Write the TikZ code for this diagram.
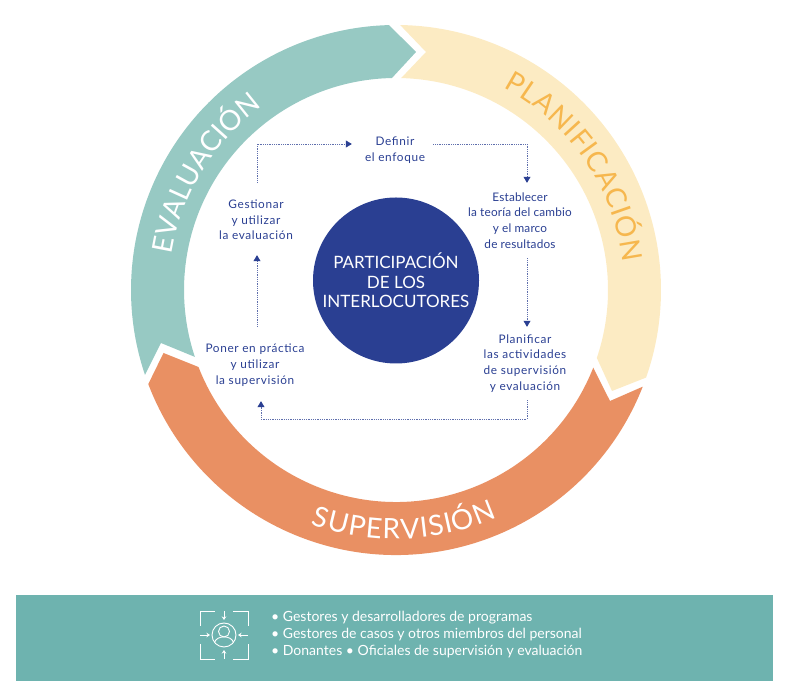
\documentclass[tikz,border=0pt]{standalone}
\usepackage{fontspec}
\setmainfont{Lato}
\newfontfamily\stepfont[LetterSpace=5.5]{Lato}
\newfontfamily\stepfonttight[LetterSpace=1.5]{Lato}
\usetikzlibrary{arrows.meta,calc,decorations.text}
\definecolor{tealring}{HTML}{97C9C3}
\definecolor{yellowring}{HTML}{FCEBC3}
\definecolor{orangering}{HTML}{E99063}
\definecolor{navy}{HTML}{2A3F92}
\definecolor{bandteal}{HTML}{6EB3AF}
\definecolor{plantext}{HTML}{F6B74E}
\tikzset{
  stepnode/.style={align=center,text=navy,inner sep=0pt,font=\stepfont\fontsize{11.8}{15.7}\selectfont,minimum width=82pt},
  flow/.style={draw=navy!75,line width=0.6pt,dash pattern=on 0.9pt off 0.9pt,-{Triangle[width=7pt,length=6pt,color=navy,fill=navy]}},
  iconline/.style={draw=white,line width=0.9pt},
  iconarrow/.style={iconline,-{Stealth[width=4.5pt,length=3.5pt]}},
}
\newcommand{\ringtext}[6]{% start, end, radius, text, colour, size
  \path[decorate,decoration={text along path,text align={fit to path},
    text={|\fontsize{#6}{#6}\selectfont\color{#5}|#4}}]
    ([shift={(#1:#3pt)}]c) arc[start angle=#1,end angle=#2,radius=#3pt];}
\begin{document}
\begin{tikzpicture}[x=1pt,y=1pt]
\useasboundingbox (0,0) rectangle (786,692);
\coordinate (c) at (396,402);
% ring
\fill[tealring] ([shift={(198.7:265pt)}]c) arc[start angle=198.7,end angle=91.5,radius=265pt]
  -- (416,640) -- ([shift={(91.1:212pt)}]c) arc[start angle=91.1,end angle=198.4,radius=212pt]
  -- (161,349) -- cycle;
\fill[yellowring] ([shift={(89.1:265pt)}]c) arc[start angle=89.1,end angle=-19.3,radius=265pt]
  -- (612,301) -- ([shift={(-18.7:212pt)}]c) arc[start angle=-18.7,end angle=88.6,radius=212pt]
  -- (426,640) -- cycle;
\fill[orangering] ([shift={(-21.4:265pt)}]c) arc[start angle=-21.4,end angle=-159.2,radius=265pt]
  -- (163.5,339) -- ([shift={(-158.7:212pt)}]c) arc[start angle=-158.7,end angle=-21.5,radius=212pt]
  -- (610,291) -- cycle;
\ringtext{171}{126}{227}{EVALUACIÓN}{white}{28}
\ringtext{62}{7}{229}{PLANIFICACIÓN}{plantext}{28}
\ringtext{250}{294}{249}{SUPERVISIÓN}{white}{28}
% centre
\node[circle,fill=navy,minimum size=166pt,inner sep=0pt,text=white,align=center,
  font=\fontsize{17}{19.5}\selectfont] (hub) at (396,411.5)
  {PARTICIPACIÓN\\DE LOS\\INTERLOCUTORES};
% steps
\node[stepnode,minimum height=20pt] (def) at (395,542) {Definir\\el enfoque};
\node[stepnode,font=\stepfonttight\fontsize{11.8}{15.7}\selectfont,minimum height=75pt,minimum width=110pt] (est) at (520,471.5) {Establecer\\la teoría del cambio\\y el marco\\de resultados};
\node[stepnode,minimum height=73pt,minimum width=90pt] (plan) at (525,328.5) {Planificar\\las actividades\\de supervisión\\y evaluación};
\node[stepnode,minimum height=76pt,minimum width=106pt] (pon) at (255,327) {Poner en práctica\\y utilizar\\la supervisión};
\node[stepnode,minimum height=74pt] (ges) at (256,472) {Gestionar\\y utilizar\\la evaluación};
% connectors
\draw[flow] ([xshift=1pt]ges.north) |- ([xshift=-2pt,yshift=6pt]def.west);
\draw[flow] ([xshift=-3pt,yshift=6pt]def.east) -| ([xshift=7pt]est.north);
\draw[flow] ([xshift=7pt]est.south) -- ([xshift=2pt]plan.north);
\draw[flow] ([xshift=2pt]plan.south) |- ($(pon.south)+(6,-16)$) -- ([xshift=6pt,yshift=2pt]pon.south);
\draw[flow] ([xshift=2pt]pon.north) -- ([xshift=1pt,yshift=2pt]ges.south);
% band
\fill[bandteal] (16,11) rectangle (773,97);
\node[anchor=west,align=left,text=white,inner sep=0pt,
  font=\fontsize{14}{17}\selectfont] (who) at (271,57)
  {• Gestores y desarrolladores de programas\\• Gestores de casos y otros miembros del personal\\• Donantes • Oficiales de supervisión y evaluación};
% icon
\begin{scope}[shift={(224,57)}]
\draw[iconline] (-24,9) |- (-9,24);
\draw[iconline] (9,24) -| (24,9);
\draw[iconline] (-24,-9) |- (-9,-24);
\draw[iconline] (9,-24) -| (24,-9);
\draw[iconarrow] (0,24) -- (0,15);
\draw[iconarrow] (0,-24) -- (0,-15);
\draw[iconarrow] (-24,0) -- (-14,0);
\draw[iconarrow] (24,0) -- (14,0);
\draw[iconline] (0,0) circle[radius=12pt];
\draw[iconline] (0,3.5) circle[radius=5.5pt];
\draw[iconline] (-9.5,-7.5) .. controls (-7.5,0) and (7.5,0) .. (9.5,-7.5);
\end{scope}
\end{tikzpicture}
\end{document}
